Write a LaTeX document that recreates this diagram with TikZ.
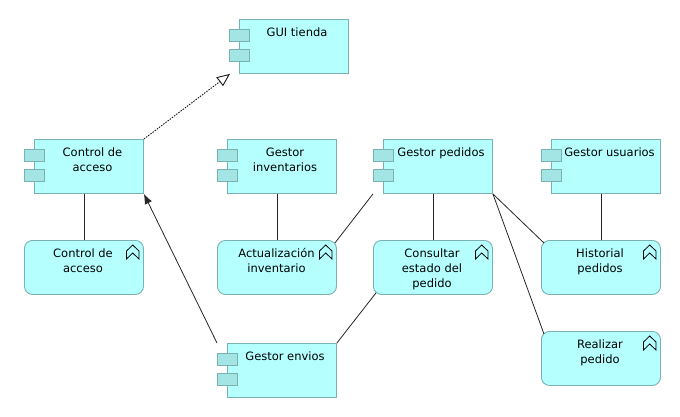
\documentclass[tikz,border=0pt]{standalone}
\usepackage{fontspec}
\setmainfont{DejaVu Sans}
\usetikzlibrary{arrows.meta,calc}
\definecolor{fillc}{RGB}{181,255,255}
\definecolor{portc}{RGB}{163,229,229}
\definecolor{edgec}{RGB}{122,178,178}
\tikzset{
  x=1pt,y=-1pt,
  compbody/.style={draw=edgec,fill=fillc,line width=0.9pt,minimum width=109pt,minimum height=54pt,inner sep=0pt,anchor=north west},
  compport/.style={draw=edgec,fill=portc,line width=0.9pt,minimum width=20pt,minimum height=12pt,inner sep=0pt,anchor=north west},
  funcbody/.style={draw=edgec,fill=fillc,line width=0.9pt,rounded corners=8pt,minimum width=119pt,minimum height=54pt,inner sep=0pt,anchor=north west},
  lbl/.style={font=\fontsize{11.5}{15}\selectfont,align=center,anchor=center,text=black,inner sep=0pt},
  rel/.style={draw=black!85,line width=0.8pt},
  chev/.style={draw=black,line width=0.8pt,fill=none,line join=miter}
}
\newcommand{\comp}[5]{% name, x, y, label x, label
  \node[compbody] (#1) at (#2,#3) {};
  \node[compport] (#1p1) at (#2-10,#3+10) {};
  \node[compport] (#1p2) at (#2-10,#3+30) {};
  \node[lbl,anchor=north] (#1t) at (#4,#3+8.5) {#5};
}
\newcommand{\func}[5]{% name, x, y, label x, label
  \node[funcbody] (#1) at (#2,#3) {};
  \node[lbl,anchor=north] (#1t) at (#4,#3+8.5) {#5};
  \draw[chev] (#2+102.5,#3+19) -- (#2+102.5,#3+11) -- (#2+108.7,#3+5) -- (#2+115,#3+11) -- (#2+115,#3+19) -- (#2+108.7,#3+13) -- cycle;
}
\begin{document}
\begin{tikzpicture}
\useasboundingbox (0,0) rectangle (680,416);
\comp{gui}{239}{19}{297}{GUI tienda}
\comp{ctl}{34}{139}{92.5}{Control de\\acceso}
\comp{inv}{227}{139}{285}{Gestor\\inventarios}
\comp{ped}{383}{139}{441}{Gestor pedidos}
\comp{usu}{551}{139}{609.5}{Gestor usuarios}
\comp{env}{227}{343}{285}{Gestor envios}
\func{fctl}{24}{240}{83}{Control de\\acceso}
\func{fact}{217}{240}{276.5}{Actualización\\inventario}
\func{fcon}{373}{240}{432}{Consultar\\estado del\\pedido}
\func{fhis}{541}{240}{600}{Historial\\pedidos}
\func{frea}{541}{331}{600}{Realizar\\pedido}
\draw[rel] (ctl.south -| fctl.north) -- (fctl.north);
\draw[rel] (inv.south -| fact.north) -- (fact.north);
\draw[rel] (ped.south -| fcon.north) -- (fcon.north);
\draw[rel] (usu.south -| fhis.north) -- (fhis.north);
\draw[rel] ([xshift=-10pt]ped.south west) -- ([xshift=-2pt,yshift=-3pt]fact.north east);
\draw[rel] ([xshift=3pt,yshift=2pt]fcon.south west) -- (env.north east);
\draw[rel] (ped.south east) -- ([xshift=3pt,yshift=-3pt]fhis.north west);
\draw[rel] (ped.south east) -- ([xshift=3pt,yshift=-3pt]frea.north west);
\draw[rel,-{Latex[length=10pt,width=8pt]}] ([xshift=-10pt]env.north west) -- (ctl.south east);
\draw[draw=black!90,line width=0.9pt,dash pattern=on 1.5pt off 1.2pt,-{Triangle[open,fill=white,length=13pt,width=11pt]}] (ctl.north east) -- ([xshift=-9pt]gui.south west);
\end{tikzpicture}
\end{document}
